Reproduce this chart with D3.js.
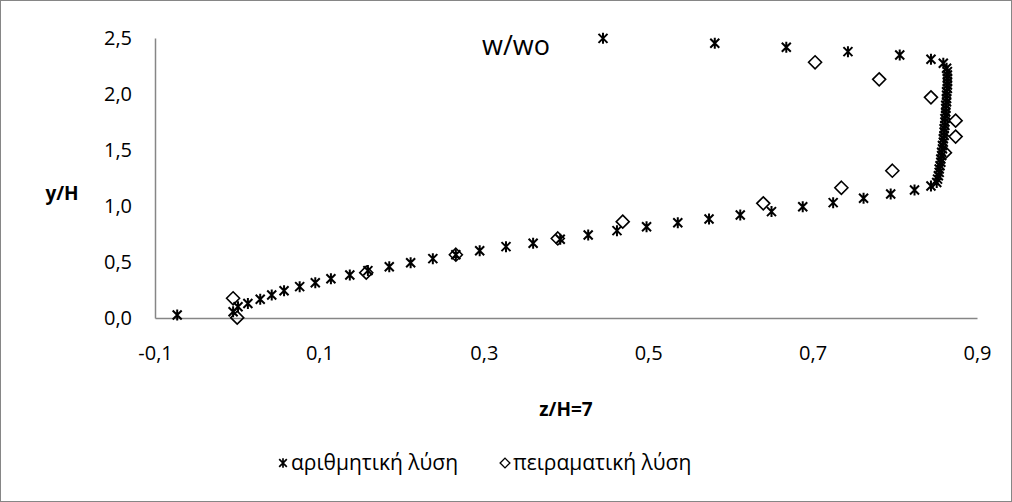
<!DOCTYPE html>
<html lang="el">
<head>
    <meta charset="UTF-8">
    <title>w/wo profile</title>
    <script src="https://d3js.org/d3.v7.min.js"></script>
    <style>
        body { margin: 0; background: #fff; }
        svg { display: block; }
        text { font-family: "Open Sans", "Noto Sans", sans-serif; fill: #000; }
        .tick text { font-size: 20px; }
        .axis-title { font-size: 19px; font-weight: bold; }
    </style>
</head>
<body>
<svg width="1012" height="502"></svg>
<script>
    // numerical solution (stars)
    const numX = [-0.073, -0.005, 0.001, 0.013, 0.028, 0.042, 0.057, 0.076, 0.095, 0.114, 0.137, 0.159,
        0.185, 0.211, 0.238, 0.266, 0.295, 0.327, 0.360, 0.393, 0.427, 0.462, 0.498, 0.536, 0.574,
        0.612, 0.650, 0.688, 0.725, 0.762, 0.795, 0.824, 0.844,
        0.851, 0.852, 0.853, 0.854, 0.854, 0.855, 0.856, 0.856, 0.857, 0.857, 0.858, 0.858, 0.859,
        0.859, 0.860, 0.860, 0.860, 0.861, 0.861, 0.861, 0.862, 0.862, 0.862, 0.862, 0.863, 0.863,
        0.863, 0.863, 0.864, 0.864, 0.864, 0.864, 0.864, 0.864, 0.863,
        0.859, 0.844, 0.806, 0.743, 0.668, 0.581, 0.445];
    const numY = [0.027, 0.056, 0.100, 0.130, 0.167, 0.205, 0.244, 0.280, 0.315, 0.351, 0.384, 0.423,
        0.458, 0.494, 0.530, 0.565, 0.600, 0.637, 0.667, 0.703, 0.741, 0.780, 0.815, 0.851, 0.884,
        0.920, 0.950, 0.994, 1.030, 1.069, 1.107, 1.143, 1.179,
        1.21, 1.24, 1.27, 1.30, 1.33, 1.36, 1.39, 1.42, 1.45, 1.48, 1.51, 1.54, 1.57,
        1.60, 1.63, 1.66, 1.69, 1.72, 1.75, 1.78, 1.81, 1.84, 1.87, 1.90, 1.93, 1.96,
        1.99, 2.02, 2.05, 2.08, 2.11, 2.14, 2.17, 2.20, 2.23,
        2.274, 2.310, 2.348, 2.378, 2.417, 2.453, 2.497];

    // experimental solution (diamonds)
    const expX = [-0.005, 0.000, 0.157, 0.266, 0.390, 0.469, 0.640, 0.735, 0.797, 0.861,
        0.874, 0.874, 0.844, 0.781, 0.703];
    const expY = [0.176, 0.003, 0.405, 0.565, 0.710, 0.860, 1.024, 1.163, 1.315, 1.476,
        1.620, 1.762, 1.970, 2.131, 2.283];

    const xTicks = [-0.1, 0.1, 0.3, 0.5, 0.7, 0.9];
    const yTicks = [0, 0.5, 1.0, 1.5, 2.0, 2.5];
    const seriesNames = ["αριθμητική λύση", "πειραματική λύση"];

    const svg = d3.select("svg");
    const fmt = d => d3.format(".1f")(d).replace(".", ",").replace("−", "-");

    // outer chart border
    svg.append("rect")
        .attr("x", 0.5).attr("y", 0.5)
        .attr("width", 1011).attr("height", 501)
        .attr("fill", "none").attr("stroke", "#868686");

    const x = d3.scaleLinear().domain([-0.1, 0.9]).range([155, 977]);
    const y = d3.scaleLinear().domain([0, 2.5]).range([318, 38]);

    // axes
    const xAxis = svg.append("g")
        .attr("transform", `translate(0,${y(0)})`)
        .call(d3.axisBottom(x).tickValues(xTicks).tickFormat(fmt).tickSize(0).tickPadding(28));
    const yAxis = svg.append("g")
        .attr("transform", `translate(${x(-0.1)},0)`)
        .call(d3.axisLeft(y).tickValues(yTicks).tickFormat(fmt).tickSize(0).tickPadding(23));
    xAxis.select(".domain").attr("stroke", "#868686").attr("stroke-width", 1.5);
    yAxis.select(".domain").attr("stroke", "#868686").attr("stroke-width", 1.5);
    svg.selectAll(".tick text").attr("font-family", null).attr("font-size", null);

    svg.append("text").attr("class", "axis-title")
        .attr("x", 566).attr("y", 416).attr("text-anchor", "middle")
        .text("z/H=7");
    svg.append("text").attr("class", "axis-title")
        .attr("x", 62).attr("y", 200).attr("text-anchor", "middle")
        .text("y/H");

    svg.append("text")
        .attr("x", 516).attr("y", 55).attr("text-anchor", "middle")
        .attr("font-size", 27)
        .text("w/wo");

    // marker shapes
    const star = "M-4.5,-4.5L4.5,4.5M-4.5,4.5L4.5,-4.5M0,-5.5L0,5.5";
    const diamond = "M0,-6.5L6.5,0L0,6.5L-6.5,0Z";

    const numPts = numX.map((v, i) => [v, numY[i]]);
    const expPts = expX.map((v, i) => [v, expY[i]]);

    svg.append("g").selectAll("path")
        .data(numPts)
        .enter().append("path")
        .attr("transform", d => `translate(${x(d[0])},${y(d[1])})`)
        .attr("d", star)
        .attr("stroke", "#000").attr("stroke-width", 2).attr("fill", "none");

    svg.append("g").selectAll("path")
        .data(expPts)
        .enter().append("path")
        .attr("transform", d => `translate(${x(d[0])},${y(d[1])})`)
        .attr("d", diamond)
        .attr("stroke", "#000").attr("stroke-width", 1.6).attr("fill", "none");

    // legend
    const legend = svg.append("g").attr("transform", "translate(283,463)");
    legend.append("path").attr("d", star).attr("transform", "scale(0.85)")
        .attr("stroke", "#000").attr("stroke-width", 2).attr("fill", "none");
    legend.append("text").attr("x", 8).attr("y", 7).attr("font-size", 21).text(seriesNames[0]);
    legend.append("path").attr("d", diamond).attr("transform", "translate(222,0) scale(0.75)")
        .attr("stroke", "#000").attr("stroke-width", 1.8).attr("fill", "none");
    legend.append("text").attr("x", 230).attr("y", 7).attr("font-size", 21).text(seriesNames[1]);
</script>
</body>
</html>
